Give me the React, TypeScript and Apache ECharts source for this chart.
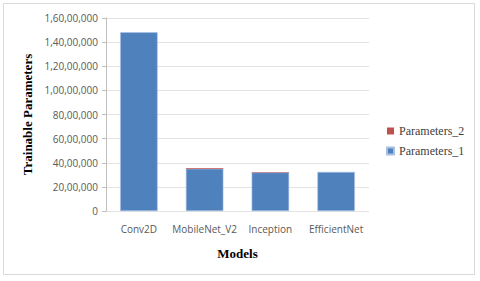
import React, { useEffect, useRef } from "react";
import * as echarts from "echarts";

const categories = ["Conv2D", "MobileNet_V2", "Inception", "EfficientNet"];
const parameters1 = [14820000, 3500000, 3200000, 3240000];
const parameters2 = [0, 60000, 40000, 0];
const yTicks = [0, 2000000, 4000000, 6000000, 8000000, 10000000, 12000000, 14000000, 16000000];

function indianFormat(v: number): string {
  const s = Math.round(v).toString();
  if (s.length <= 3) return s;
  const last3 = s.slice(-3);
  let rest = s.slice(0, -3);
  const parts: string[] = [];
  while (rest.length > 2) {
    parts.unshift(rest.slice(-2));
    rest = rest.slice(0, -2);
  }
  if (rest.length) parts.unshift(rest);
  return parts.join(",") + "," + last3;
}

export default function App() {
  const ref = useRef<HTMLDivElement>(null);
  useEffect(() => {
    if (!ref.current) return;
    const chart = echarts.init(ref.current, null, { renderer: "svg" });
    chart.setOption({
      animation: false,
      backgroundColor: "#ffffff",
      graphic: [
        {
          type: "rect",
          shape: { x: 3.5, y: 3.5, width: 471, height: 271 },
          style: { fill: "none", stroke: "#d9d9d9", lineWidth: 1 },
          silent: true,
        },
      ],
      grid: { left: 106, right: 111, top: 18, bottom: 70 },
      legend: {
        data: ["Parameters_2", "Parameters_1"],
        orient: "vertical",
        left: 381,
        top: 120,
        itemWidth: 7,
        itemHeight: 7,
        itemGap: 8,
        icon: "rect",
        textStyle: { fontFamily: "'Liberation Serif', serif", fontSize: 12, color: "#404040" },
      },
      xAxis: {
        type: "category",
        data: categories,
        name: "Models",
        nameLocation: "middle",
        nameGap: 36,
        nameTextStyle: { fontFamily: "'Liberation Serif', serif", fontWeight: "bold", fontSize: 13, color: "#000" },
        axisLine: { show: false },
        axisTick: { show: false },
        axisLabel: { interval: 0, fontFamily: "Open Sans", fontSize: 10, color: "#595959", margin: 13 },
      },
      yAxis: {
        type: "value",
        min: yTicks[0],
        max: yTicks[yTicks.length - 1],
        interval: yTicks[1] - yTicks[0],
        name: "Trainable Parameters",
        nameLocation: "middle",
        nameGap: 70,
        nameTextStyle: { fontFamily: "'Liberation Serif', serif", fontWeight: "bold", fontSize: 13, color: "#000" },
        axisLine: { show: true, lineStyle: { color: "#bfbfbf" } },
        axisTick: { show: true, length: 4, lineStyle: { color: "#bfbfbf" } },
        splitLine: { lineStyle: { color: "#e3e3e3" } },
        axisLabel: {
          fontFamily: "Open Sans",
          fontSize: 10,
          color: "#595959",
          margin: 8,
          formatter: (v: number) => indianFormat(v),
        },
      },
      series: [
        {
          name: "Parameters_1",
          type: "bar",
          stack: "total",
          data: parameters1,
          barCategoryGap: "43%",
          itemStyle: { color: "#4f81bd", borderColor: "#a9c1e0", borderWidth: 0.6 },
        },
        {
          name: "Parameters_2",
          type: "bar",
          stack: "total",
          data: parameters2,
          barCategoryGap: "43%",
          itemStyle: { color: "#c0504d" },
        },
      ],
    });
    return () => chart.dispose();
  }, []);
  return (
    <div
      ref={ref}
      style={{ position: "fixed", left: 0, top: 0, width: 480, height: 281 }}
    />
  );
}
